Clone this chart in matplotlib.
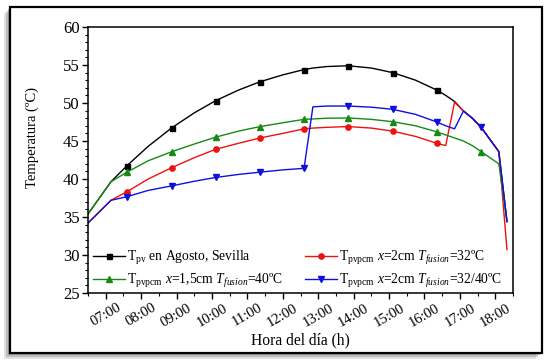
import matplotlib
matplotlib.use("Agg")
import matplotlib.pyplot as plt
import matplotlib.patches as mpatches
from matplotlib.ticker import MultipleLocator, FuncFormatter

# hour of day (decimal)
hours = [6.50, 7.15, 7.60, 8.20, 8.87, 9.50, 10.10, 10.75, 11.36, 12.00,
         12.60, 12.85, 13.25, 13.85, 14.50, 15.10, 15.75, 16.35, 16.60,
         16.85, 17.10, 17.35, 17.60, 18.10, 18.33]

t_pv = [35.4, 39.65, 41.75, 44.3, 46.75, 48.7, 50.3, 51.7, 52.8, 53.7,
        54.4, 54.6, 54.8, 54.9, 54.6, 54.0, 53.0, 51.7, 51.0,
        50.2, 48.95, 48.0, 46.8, 43.6, 34.4]
t_pcm32 = [34.2, 37.2, 38.33, 40.0, 41.5, 42.8, 43.9, 44.7, 45.4, 46.0,
           46.6, 46.7, 46.8, 46.9, 46.7, 46.3, 45.6, 44.7, 44.4,
           50.1, 48.95, 48.0, 46.8, 43.6, 30.7]
t_pcm40 = [35.4, 39.65, 40.9, 42.4, 43.6, 44.6, 45.5, 46.3, 46.9, 47.4,
           47.85, 47.9, 48.0, 48.03, 47.85, 47.54, 47.0, 46.2, 45.8,
           45.4, 45.0, 44.4, 43.6, 42.0, 34.4]
t_pcm3240 = [34.2, 37.2, 37.67, 38.5, 39.1, 39.7, 40.2, 40.6, 40.9, 41.2,
             41.4, 49.5, 49.6, 49.6, 49.45, 49.17, 48.5, 47.5, 47.0,
             46.6, 48.95, 48.0, 46.8, 43.6, 34.4]

labels = [r"T$_{\mathrm{pv}}$ en Agosto, Sevilla",
          r"T$_{\mathrm{pvpcm}}$ $x$=2cm $T_{fusion}$=32ºC",
          r"T$_{\mathrm{pvpcm}}$ $x$=1,5cm $T_{fusion}$=40ºC",
          r"T$_{\mathrm{pvpcm}}$ $x$=2cm $T_{fusion}$=32/40ºC"]

plt.rcParams["font.family"] = "Liberation Serif"
plt.rcParams["mathtext.fontset"] = "custom"
plt.rcParams["mathtext.rm"] = "Liberation Serif"
plt.rcParams["mathtext.it"] = "Liberation Serif:italic"

fig = plt.figure(figsize=(5.5, 3.62), dpi=100)

# framed panel with a soft shadow (left / bottom)
W, H = 550, 362
for off, a in [(6, 0.18), (4, 0.25), (2, 0.35)]:
    fig.patches.append(mpatches.Rectangle(((10 - off) / W, (9 - off) / H), 532 / W, 346 / H,
                                          transform=fig.transFigure, facecolor="#555555",
                                          alpha=a, edgecolor="none", zorder=0))
fig.patches.append(mpatches.Rectangle((10 / W, 9 / H), 532 / W, 346 / H, transform=fig.transFigure,
                                      facecolor="white", edgecolor="black", linewidth=1.6, zorder=1))

ax = fig.add_axes([88 / W, 1 - 293 / H, 425 / W, 266 / H])
ax.set_zorder(2)

marks = [2, 4, 6, 8, 10, 13, 15, 17]
l_pv, = ax.plot(hours, t_pv, color="black", lw=1.0, marker="s", ms=3.6, markevery=marks)
l_32, = ax.plot(hours, t_pcm32, color="#ee1111", lw=1.0, marker="o", ms=3.8, markevery=marks)
l_40, = ax.plot(hours, t_pcm40, color="#158a15", lw=1.0, marker="^", ms=4.2, markevery=marks + [22])
l_3240, = ax.plot(hours, t_pcm3240, color="#1010dd", lw=1.0, marker="v", ms=4.2, markevery=marks + [22])

ax.set_xlim(6.5, 18.5)
ax.set_ylim(25, 60)
ax.xaxis.set_major_locator(MultipleLocator(1))
ax.xaxis.set_minor_locator(MultipleLocator(0.5))
ax.yaxis.set_major_locator(MultipleLocator(5))
ax.yaxis.set_minor_locator(MultipleLocator(1))
ax.xaxis.set_major_formatter(FuncFormatter(lambda v, p: f"{int(round(v)):02d}:00"))
ax.tick_params(which="major", direction="out", length=4, width=1.0)
ax.tick_params(which="minor", direction="out", length=2, width=0.8)
ax.tick_params(axis="y", labelsize=12, pad=2)
ax.tick_params(axis="x", labelsize=10.5, pad=2)
for lab in ax.get_xticklabels():
    lab.set_rotation(30)
    lab.set_ha("center")
for sp in ax.spines.values():
    sp.set_linewidth(1.1)

ax.set_xlabel("Hora del día (h)", fontsize=11.2, labelpad=2)
ax.set_ylabel("Temperatura (ºC)", fontsize=10.5)
ax.yaxis.set_label_coords(-0.115, 0.583)

ax.legend([l_pv, l_40, l_32, l_3240], [labels[0], labels[2], labels[1], labels[3]],
          ncol=2, loc="lower left", bbox_to_anchor=(0.0, -0.008), frameon=False,
          fontsize=9.8, numpoints=1, handlelength=2.3, handletextpad=0.2,
          columnspacing=1.6, labelspacing=0.35, borderaxespad=0.0)

plt.savefig("out.png", dpi=100)
plt.close()
